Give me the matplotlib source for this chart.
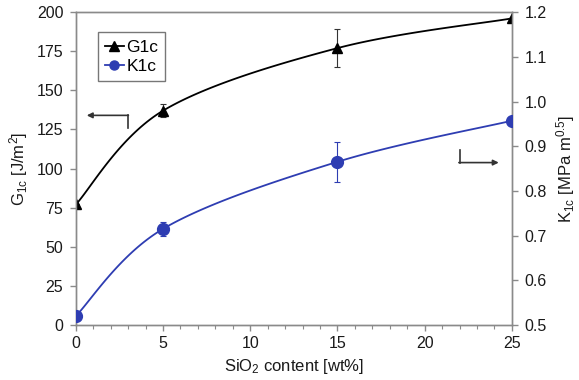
import numpy as np
import matplotlib
matplotlib.use("Agg")
import matplotlib.pyplot as plt
from matplotlib.ticker import MultipleLocator
from matplotlib.lines import Line2D

plt.rcParams['font.family'] = ['Liberation Sans', 'DejaVu Sans']
plt.rcParams['mathtext.fontset'] = 'custom'
plt.rcParams['mathtext.rm'] = 'Liberation Sans'
plt.rcParams['mathtext.it'] = 'Liberation Sans'

sio2 = [0, 5, 15, 25]
g1c = [77, 137, 177, 196]
g1c_err = [0, 4, 12, 0]
k1c = [0.52, 0.715, 0.865, 0.957]
k1c_err = [0, 0.016, 0.045, 0]

xticks = [0, 5, 10, 15, 20, 25]
g_ticks = [0, 25, 50, 75, 100, 125, 150, 175, 200]
k_ticks = [0.5, 0.6, 0.7, 0.8, 0.9, 1.0, 1.1, 1.2]

BLUE = '#2E3DB2'
GRAY = '#8a8a8a'
TXT = '#1a1a1a'


def smooth(x, y, n=40):
    """Excel-style smoothed line (Catmull-Rom Bezier) through the given points."""
    x = np.asarray(x, float); y = np.asarray(y, float)
    P = np.column_stack([x, y])
    Pe = np.vstack([P[0], P, P[-1]])
    out = []
    t = np.linspace(0, 1, n)[:, None]
    for i in range(len(P) - 1):
        p0, p1, p2, p3 = Pe[i], Pe[i + 1], Pe[i + 2], Pe[i + 3]
        c1 = p1 + (p2 - p0) / 6
        c2 = p2 - (p3 - p1) / 6
        seg = ((1 - t) ** 3) * p1 + 3 * ((1 - t) ** 2) * t * c1 + 3 * (1 - t) * t ** 2 * c2 + t ** 3 * p2
        out.append(seg)
    s = np.vstack(out)
    return s[:, 0], s[:, 1]


fig = plt.figure(figsize=(5.79, 3.80), dpi=100)
ax = fig.add_axes([0.131, 0.145, 0.753, 0.823])
ax2 = ax.twinx()

# G1c
sx, sy = smooth(sio2, g1c)
ax.plot(sx, sy, color='black', lw=1.3, zorder=3)
ax.errorbar(sio2, g1c, yerr=g1c_err, fmt='none', ecolor='#333333', elinewidth=0.8,
            capsize=2.5, capthick=0.8, zorder=3)
ax.plot(sio2, g1c, linestyle='None', color='black', marker='^', ms=7, zorder=4)

# K1c
kx, ky = smooth(sio2, k1c)
ax2.plot(kx, ky, color=BLUE, lw=1.3, zorder=3)
ax2.errorbar(sio2, k1c, yerr=k1c_err, fmt='none', ecolor=BLUE, elinewidth=0.8,
             capsize=2.5, capthick=0.8, zorder=3)
ax2.plot(sio2, k1c, linestyle='None', color=BLUE, marker='o', ms=8.5, zorder=4)

ax.set_xlim(0, 25)
ax.set_ylim(0, 200)
ax2.set_ylim(0.5, 1.2)
ax.set_xticks(xticks)
ax.xaxis.set_minor_locator(MultipleLocator(1))
ax.set_yticks(g_ticks)
ax2.set_yticks(k_ticks)
ax2.set_yticklabels([f"{v:.1f}" for v in k_ticks])

for a in (ax, ax2):
    for s in a.spines.values():
        s.set_color(GRAY)
        s.set_linewidth(1.0)
    a.tick_params(colors=GRAY, labelcolor=TXT, labelsize=11.5, width=1.0, length=4,
                  direction='out', pad=5)
ax.tick_params(axis='x', which='minor', colors=GRAY, length=3, width=0.8)
ax.tick_params(axis='x', pad=4)

ax.set_xlabel('SiO$_2$ content [wt%]', fontsize=12, color=TXT, labelpad=4)
ax.set_ylabel('G$_{1c}$ [J/m$^2$]', fontsize=12, color=TXT, labelpad=5)
ax2.set_ylabel('K$_{1c}$ [MPa m$^{0.5}$]', fontsize=12, color=TXT, labelpad=5)

# legend
h1 = Line2D([], [], color='black', marker='^', ms=6.5, lw=1.3)
h2 = Line2D([], [], color=BLUE, marker='o', ms=6.5, lw=1.3)
leg = ax.legend([h1, h2], ['G1c', 'K1c'], loc='upper left', bbox_to_anchor=(0.05, 0.935),
                fontsize=12.5, frameon=True, fancybox=False, handlelength=1.1,
                handletextpad=0.15, borderpad=0.4, labelspacing=0.25, borderaxespad=0)
leg.get_frame().set_edgecolor('#555555')
leg.get_frame().set_linewidth(1.0)

# direction arrows
ax.plot([0.119, 0.119], [0.63, 0.67], transform=ax.transAxes, color='#333333', lw=1.2)
ax.annotate('', xy=(0.025, 0.67), xytext=(0.1205, 0.67), xycoords='axes fraction',
            arrowprops=dict(arrowstyle='-|>', color='#333333', lw=1.2, mutation_scale=8,
                            shrinkA=0, shrinkB=0))
ax.plot([0.880, 0.880], [0.56, 0.519], transform=ax.transAxes, color='#333333', lw=1.2)
ax.annotate('', xy=(0.97, 0.519), xytext=(0.8785, 0.519), xycoords='axes fraction',
            arrowprops=dict(arrowstyle='-|>', color='#333333', lw=1.2, mutation_scale=8,
                            shrinkA=0, shrinkB=0))

fig.savefig('out.png', dpi=100)
